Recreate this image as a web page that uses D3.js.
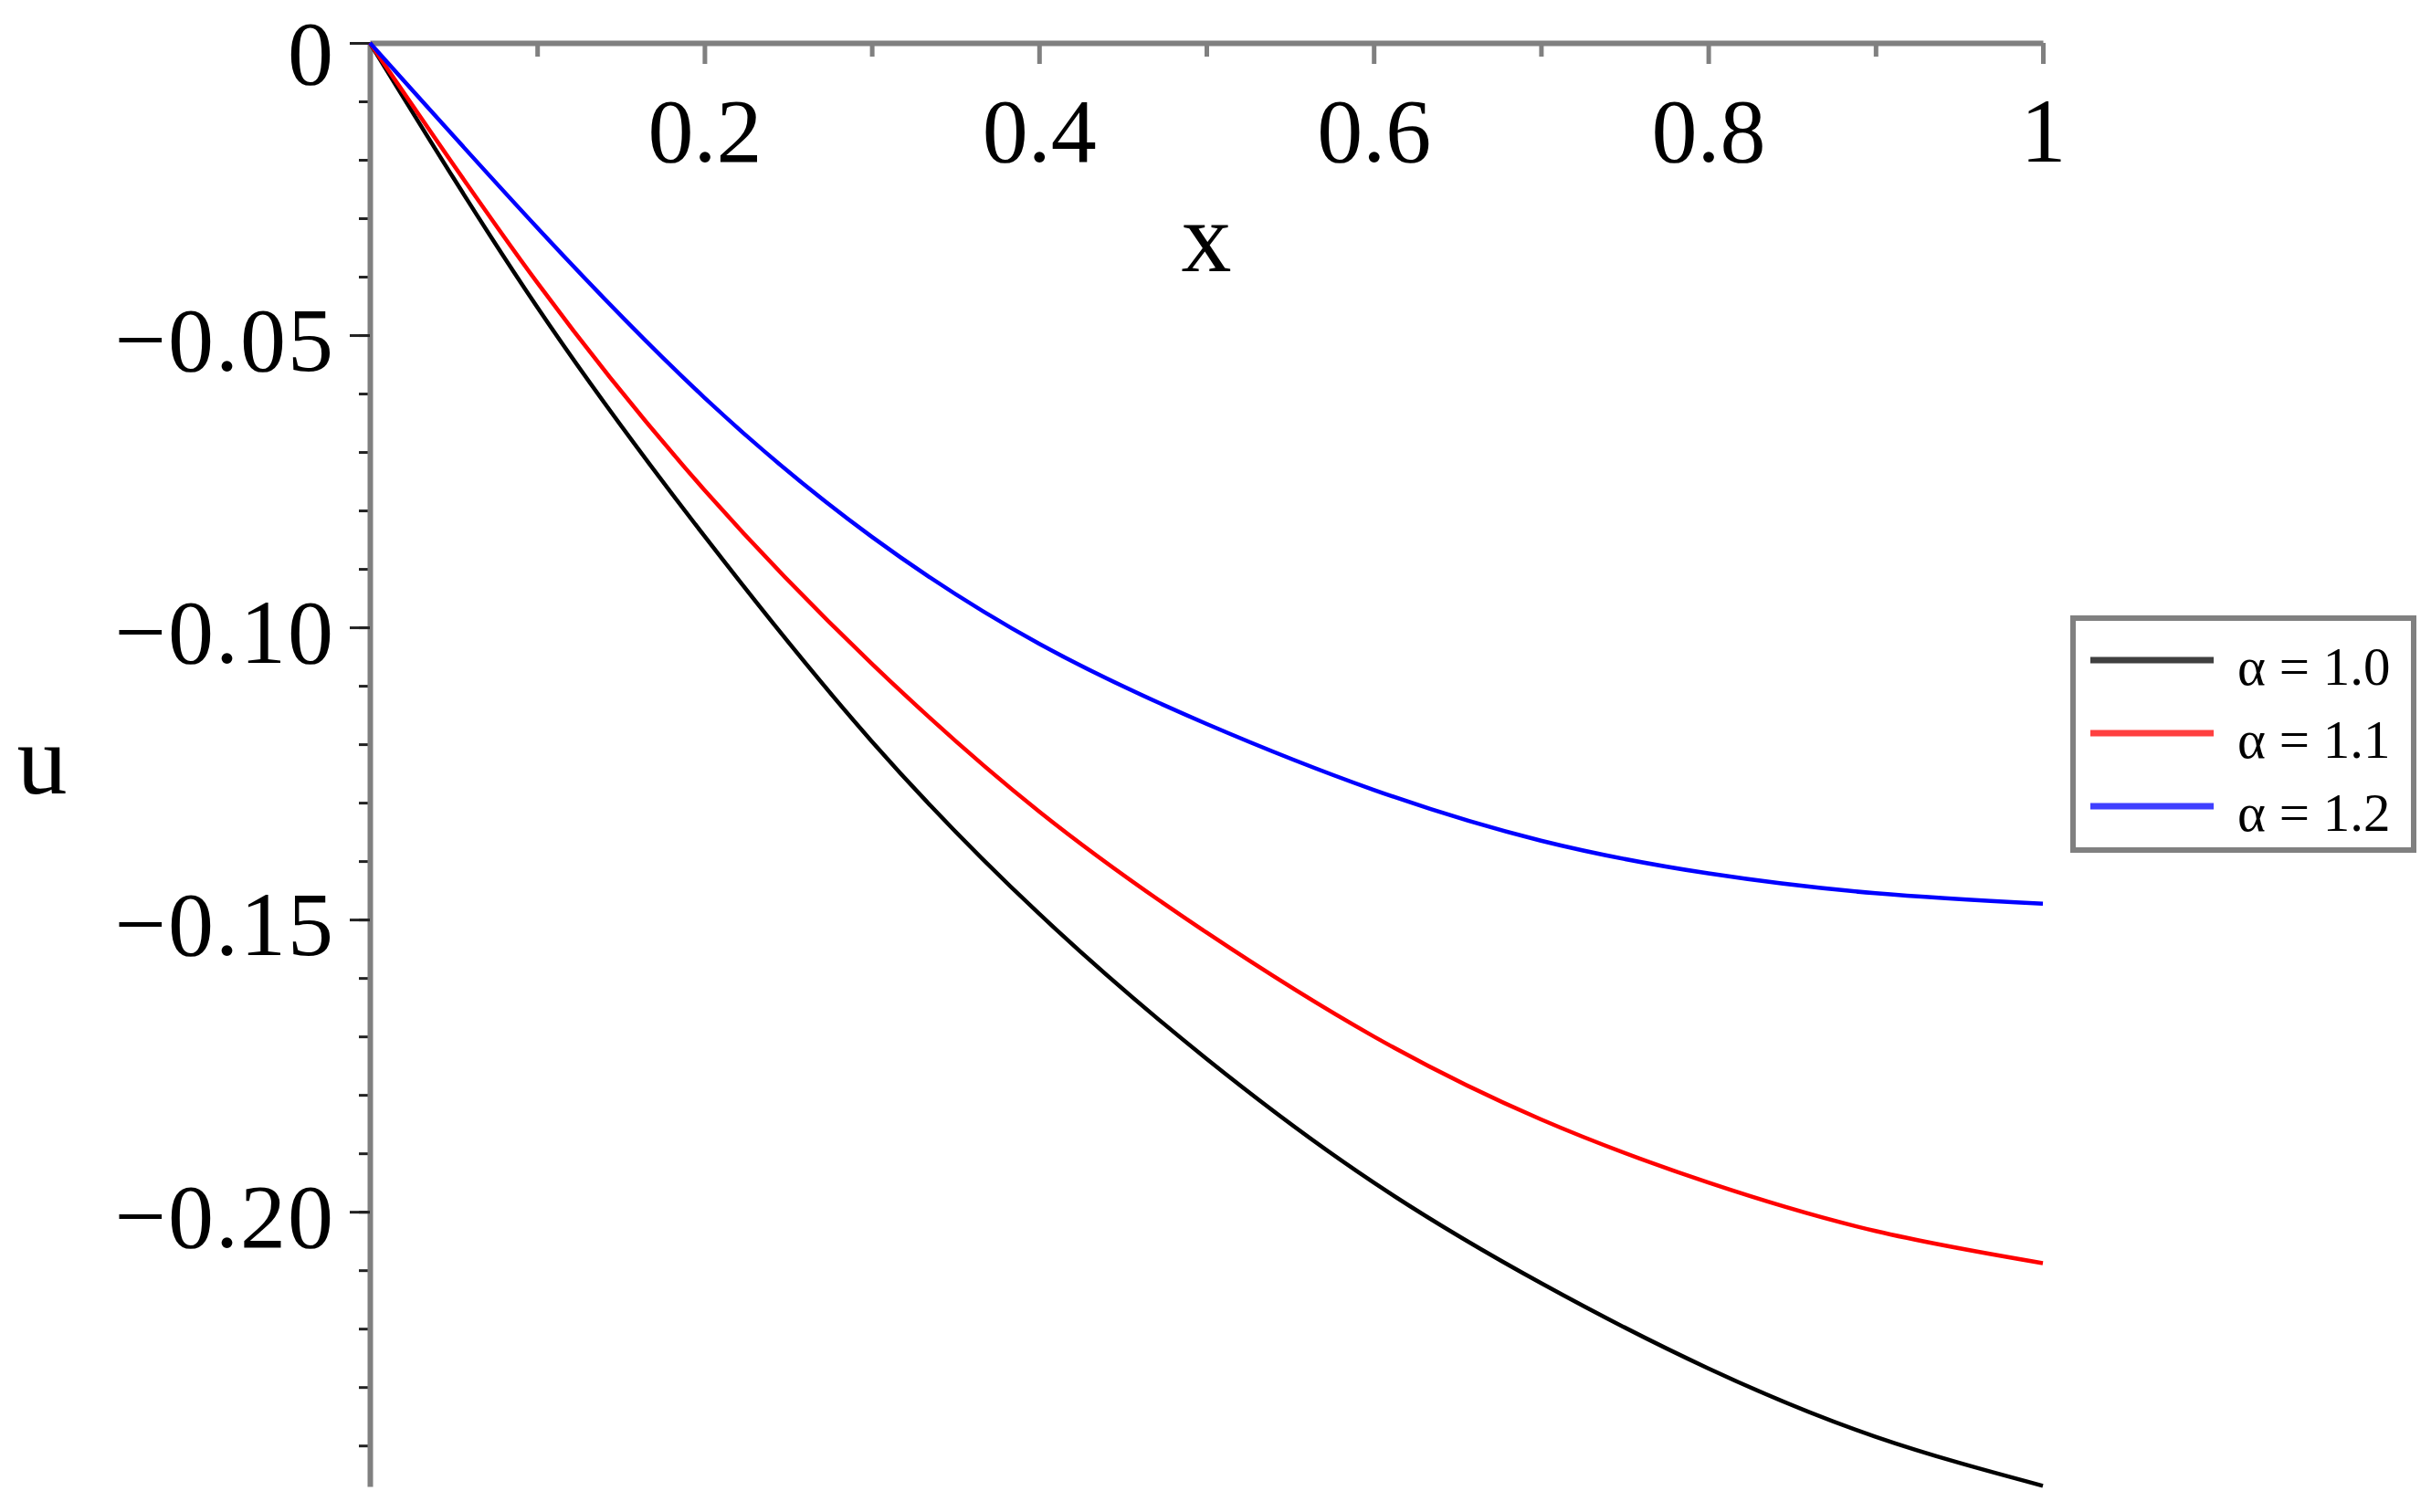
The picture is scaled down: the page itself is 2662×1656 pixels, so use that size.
<!DOCTYPE html>
<html lang="en">
<head>
<meta charset="UTF-8">
<title>u(x) for several alpha</title>
<script src="https://d3js.org/d3.v7.min.js"></script>
<style>
  body { margin: 0; background: #fff; }
  text { font-family: "Liberation Serif", "Times New Roman", serif; fill: #000; }
</style>
</head>
<body>
<svg id="chart" width="2662" height="1656"></svg>
<script>
// values
const xValues  = [0, 0.1, 0.2, 0.3, 0.4, 0.5, 0.6, 0.7, 0.8, 0.9, 1.0];
const uAlpha10 = [0, -0.0452, -0.0844, -0.1195, -0.1490, -0.1738, -0.1950, -0.2122, -0.2268, -0.2385, -0.2469];
const uAlpha11 = [0, -0.0410, -0.0765, -0.1062, -0.1315, -0.1522, -0.1700, -0.1842, -0.1950, -0.2033, -0.2088];
const uAlpha12 = [0, -0.0316, -0.0607, -0.0845, -0.1028, -0.1165, -0.1278, -0.1365, -0.1421, -0.1455, -0.1473];

const seriesNames  = ["α = 1.0", "α = 1.1", "α = 1.2"];
const seriesColors = ["#000000", "#ff0000", "#0000ff"];
const legendColors = ["#404040", "#ff4040", "#4040ff"];

const xMajor = [0.2, 0.4, 0.6, 0.8, 1];
const xMinor = [0.1, 0.3, 0.5, 0.7, 0.9];
const yMajor = [0, -0.05, -0.10, -0.15, -0.20];
const yLabels = ["0", "\u22120.05", "\u22120.10", "\u22120.15", "\u22120.20"];

const svg = d3.select("#chart");
svg.append("rect").attr("width", 2662).attr("height", 1656).attr("fill", "#fff");

const x = d3.scaleLinear().domain([0, 1]).range([405, 2237]);
const y = d3.scaleLinear().domain([0, -0.247]).range([47, 1628]);

const axisColor = "#808080";

// x axis along the top (u = 0), ticks hanging down
const gx = svg.append("g").attr("transform", `translate(0,${y(0)})`)
    .call(d3.axisBottom(x).tickValues(xMajor).tickSize(23).tickSizeOuter(0)
        .tickFormat(d3.format(".1~f")));
gx.select(".domain").attr("stroke", axisColor).attr("stroke-width", 6);
gx.selectAll(".tick line").attr("stroke", axisColor).attr("stroke-width", 5);
gx.selectAll(".tick text")
    .attr("y", 130).attr("dy", 0)
    .attr("font-size", 100);

const gxm = svg.append("g").attr("transform", `translate(0,${y(0)})`)
    .call(d3.axisBottom(x).tickValues(xMinor).tickSize(15).tickFormat(""));
gxm.select(".domain").remove();
gxm.selectAll(".tick line").attr("stroke", axisColor).attr("stroke-width", 5);

// y axis
const yMinor = d3.range(0, 25).map(i => -i / 100);
const gym = svg.append("g").attr("transform", `translate(${x(0)},0)`)
    .call(d3.axisLeft(y).tickValues(yMinor).tickSize(12).tickFormat(""));
gym.select(".domain").remove();
gym.selectAll(".tick line").attr("stroke", "#222").attr("stroke-width", 3);

const gy = svg.append("g").attr("transform", `translate(${x(0)},0)`)
    .call(d3.axisLeft(y).tickValues(yMajor).tickSize(22).tickSizeOuter(0)
        .tickFormat((d, i) => yLabels[i]));
gy.select(".domain").attr("stroke", axisColor).attr("stroke-width", 6);
gy.selectAll(".tick line").attr("stroke", "#222").attr("stroke-width", 3);
gy.selectAll(".tick text")
    .attr("x", -38).attr("dy", 0)
    .attr("y", d => d === 0 ? 44 : 38)
    .attr("font-size", 100)
    .attr("letter-spacing", 2);

// axis titles
svg.append("text").attr("x", (x(0) + x(1)) / 2).attr("y", 297)
    .attr("text-anchor", "middle").attr("font-size", 110).text("x");
svg.append("text").attr("x", 46).attr("y", 869)
    .attr("text-anchor", "middle").attr("font-size", 110).text("u");

// curves
const allSeries = [uAlpha10, uAlpha11, uAlpha12];
const line = d3.line()
    .x((d, i) => x(xValues[i]))
    .y(d => y(d))
    .curve(d3.curveNatural);

svg.selectAll(".curve")
    .data(allSeries)
    .enter().append("path")
    .attr("class", "curve")
    .attr("d", d => line(d))
    .attr("fill", "none")
    .attr("stroke", (d, i) => seriesColors[i])
    .attr("stroke-width", 4.5);

// legend
const lg = svg.append("g").attr("transform", "translate(2270,677)");
lg.append("rect").attr("width", 373).attr("height", 254)
    .attr("fill", "#fff").attr("stroke", axisColor).attr("stroke-width", 6);
lg.selectAll(".leg-line")
    .data(seriesNames)
    .enter().append("line")
    .attr("x1", 19).attr("x2", 154)
    .attr("y1", (d, i) => 46 + i * 80).attr("y2", (d, i) => 46 + i * 80)
    .attr("stroke", (d, i) => legendColors[i])
    .attr("stroke-width", 7);
lg.selectAll(".leg-text")
    .data(seriesNames)
    .enter().append("text")
    .attr("x", 180)
    .attr("y", (d, i) => 73 + i * 80)
    .attr("font-size", 59)
    .text(d => d);
</script>
</body>
</html>
